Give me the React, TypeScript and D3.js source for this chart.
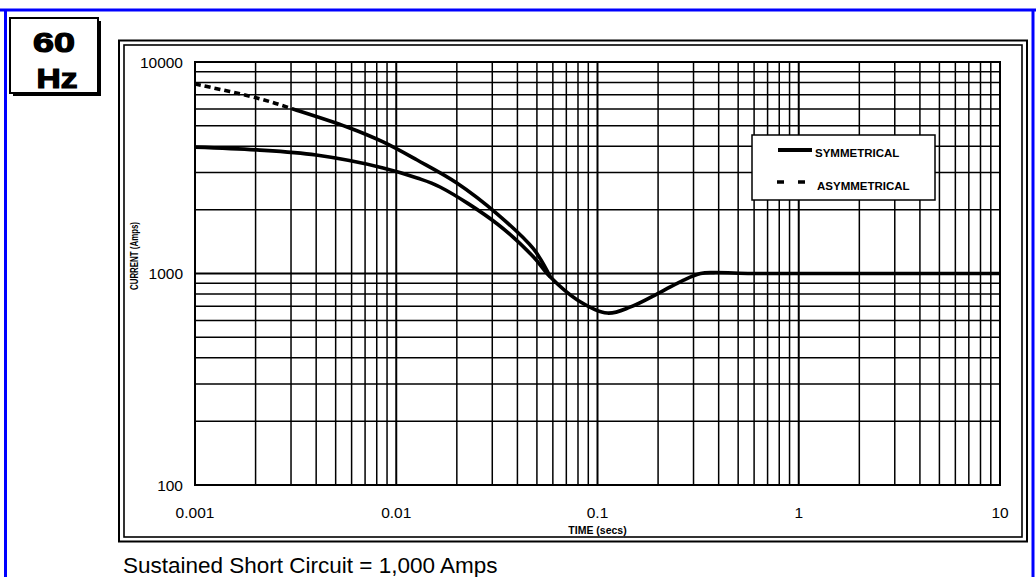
import React from "react";
import * as d3 from "d3";

// ---- data ----
const symTime = [0.001, 0.00203, 0.004, 0.0086, 0.0127, 0.0165, 0.0318, 0.0481, 0.0583, 0.0794, 0.112, 0.146, 0.206, 0.268, 0.325, 0.378, 0.58, 1, 10];
const symAmps = [3960, 3840, 3630, 3157, 2830, 2565, 1715, 1197, 962, 750, 650, 695, 817, 931, 1000, 1010, 1000, 1000, 1000];

const asymTime = [0.001, 0.00203, 0.00307, 0.0057, 0.0086, 0.0127, 0.02, 0.0318, 0.0481, 0.0583];
const asymAmps = [7870, 6760, 5995, 4930, 4190, 3440, 2680, 1910, 1306, 962];
const asymDashedUntil = 0.0031;

const xTickValues = [0.001, 0.01, 0.1, 1, 10];
const xTickLabels = ["0.001", "0.01", "0.1", "1", "10"];
const yTickValues = [100, 1000, 10000];
const yTickLabels = ["100", "1000", "10000"];

const legendItems = ["SYMMETRICAL", "ASYMMETRICAL"];
const xTitle = "TIME (secs)";
const yTitle = "CURRENT (Amps)";
const footnote = "Sustained Short Circuit = 1,000 Amps";
const badge = ["60", "Hz"];

const FONT = "'Liberation Sans', Arial, Helvetica, sans-serif";

export default function App() {
  const W = 1036, H = 577;
  const plot = { left: 195, right: 1000, top: 62, bottom: 485 };
  const x = d3.scaleLog().domain([0.001, 10]).range([plot.left, plot.right]);
  const y = d3.scaleLog().domain([100, 10000]).range([plot.bottom, plot.top]);

  const isMajor = (v: number) => Math.abs(Math.log10(v) - Math.round(Math.log10(v))) < 1e-9;
  const xGrid = x.ticks();
  const yGrid = y.ticks();

  const line = d3
    .line<[number, number]>()
    .x((d) => x(d[0]))
    .y((d) => y(d[1]))
    .curve(d3.curveCatmullRom.alpha(0.5));

  const symPath = line(symTime.map((t, i) => [t, symAmps[i]] as [number, number])) || "";
  const asymPath = line(asymTime.map((t, i) => [t, asymAmps[i]] as [number, number])) || "";
  const splitX = x(asymDashedUntil);

  return (
    <svg width={W} height={H} style={{ position: "absolute", left: 0, top: 0, background: "#fff" }} fontFamily={FONT}>
      <defs>
        <clipPath id="clipDash">
          <rect x={plot.left - 5} y={plot.top - 5} width={splitX - plot.left + 5} height={plot.bottom - plot.top + 10} />
        </clipPath>
        <clipPath id="clipSolid">
          <rect x={splitX} y={plot.top - 5} width={plot.right - splitX + 5} height={plot.bottom - plot.top + 10} />
        </clipPath>
        <clipPath id="clipPlot">
          <rect x={plot.left} y={plot.top - 3} width={plot.right - plot.left} height={plot.bottom - plot.top + 6} />
        </clipPath>
      </defs>
      <rect x={0} y={0} width={W} height={H} fill="#fff" />

      {/* blue outer frame */}
      <line x1={0} x2={W} y1={10} y2={10} stroke="#0000ff" strokeWidth={3} />
      <line x1={5.5} x2={5.5} y1={10} y2={H} stroke="#0000ff" strokeWidth={3} />
      <line x1={1033} x2={1033} y1={10} y2={H} stroke="#0000ff" strokeWidth={3} />

      {/* 60 Hz badge */}
      <rect x={13} y={21} width={88} height={75} fill="#000" />
      <rect x={10} y={18} width={88} height={75} fill="#fff" stroke="#000" strokeWidth={2} />
      <text x={54} y={52} textAnchor="middle" fontSize={28} fontWeight="bold" fill="#000" stroke="#000" strokeWidth={1.2} textLength={42} lengthAdjust="spacingAndGlyphs">{badge[0]}</text>
      <text x={57} y={88} textAnchor="middle" fontSize={28} fontWeight="bold" fill="#000" stroke="#000" strokeWidth={1.2} textLength={41} lengthAdjust="spacingAndGlyphs">{badge[1]}</text>

      {/* chart double frame */}
      <rect x={119} y={40.5} width={908} height={501} fill="none" stroke="#000" strokeWidth={2} />
      <rect x={124} y={45} width={898} height={492} fill="none" stroke="#000" strokeWidth={1.6} />

      {/* grid */}
      <g>
        {xGrid.map((v, i) => (
          <line key={"xg" + i} x1={x(v)} x2={x(v)} y1={plot.top} y2={plot.bottom} stroke="#000" strokeWidth={isMajor(v) ? 2 : 1.5} />
        ))}
        {yGrid.map((v, i) => (
          <line key={"yg" + i} x1={plot.left} x2={plot.right} y1={y(v)} y2={y(v)} stroke="#000" strokeWidth={isMajor(v) ? 2 : 1.5} />
        ))}
        <rect x={plot.left} y={plot.top} width={plot.right - plot.left} height={plot.bottom - plot.top} fill="none" stroke="#000" strokeWidth={2} />
      </g>

      {/* tick labels */}
      {xTickValues.map((v, i) => (
        <text key={"xl" + i} x={x(v)} y={plot.bottom + 33} textAnchor="middle" fontSize={15.5} fill="#000">{xTickLabels[i]}</text>
      ))}
      {yTickValues.map((v, i) => (
        <text key={"yl" + i} x={plot.left - 12} y={y(v)} dy="0.36em" textAnchor="end" fontSize={15.5} fill="#000">{yTickLabels[i]}</text>
      ))}

      {/* axis titles */}
      <text x={(plot.left + plot.right) / 2} y={534} textAnchor="middle" fontSize={10.5} fontWeight="bold" fill="#000">{xTitle}</text>
      <text transform={`translate(138,256) rotate(-90)`} textAnchor="middle" fontSize={10} fontWeight="bold" fill="#000" textLength={68} lengthAdjust="spacingAndGlyphs">{yTitle}</text>

      {/* curves */}
      <g clipPath="url(#clipPlot)">
        <path d={symPath} fill="none" stroke="#000" strokeWidth={3.6} strokeLinejoin="round" />
        <g clipPath="url(#clipSolid)">
          <path d={asymPath} fill="none" stroke="#000" strokeWidth={3.6} strokeLinejoin="round" />
        </g>
        <g clipPath="url(#clipDash)">
          <path d={asymPath} fill="none" stroke="#000" strokeWidth={3.6} strokeDasharray="6 4" />
        </g>
      </g>

      {/* legend */}
      <rect x={752} y={135} width={183} height={65} fill="#fff" stroke="#000" strokeWidth={1.5} />
      <line x1={778} x2={812} y1={150} y2={150} stroke="#000" strokeWidth={4} />
      <text x={815} y={157} fontSize={11.5} fontWeight="bold" fill="#000">{legendItems[0]}</text>
      <line x1={777} x2={806} y1={182} y2={182} stroke="#000" strokeWidth={3.5} strokeDasharray="7 14" />
      <text x={817} y={190} fontSize={11.5} fontWeight="bold" fill="#000">{legendItems[1]}</text>

      {/* footnote */}
      <text x={123} y={573} fontSize={22.5} fill="#000">{footnote}</text>
    </svg>
  );
}
